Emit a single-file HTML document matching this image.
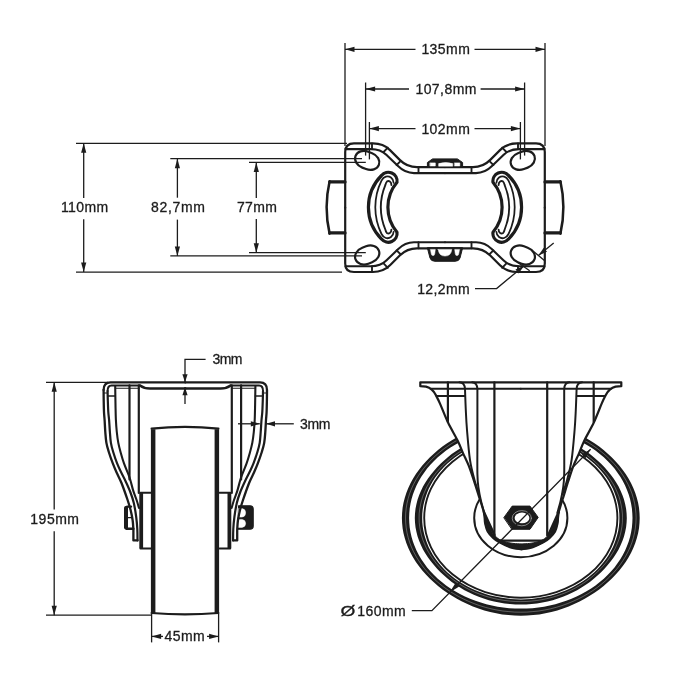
<!DOCTYPE html>
<html lang="en"><head><meta charset="utf-8"><title>Castor 160mm technical drawing</title>
<style>html,body{margin:0;padding:0;background:#fff;}body{width:700px;height:700px;overflow:hidden;}svg{display:block;will-change:transform;}text{font-family:"Liberation Sans",Arial,Helvetica,sans-serif;}</style>
</head><body>
<svg width="700" height="700" viewBox="0 0 700 700">
<rect x="0" y="0" width="700" height="700" fill="#fff"/>
<g stroke="#1c1c1c" fill="none" stroke-linejoin="round" stroke-linecap="round">
<path d="M345,181.9 H329.8 M345,232.9 H329.8" stroke-width="3.3" fill="none" />
<path d="M329.6,181.2 Q323.6,207.4 329.6,233.6" stroke-width="2.53" fill="none" />
<path d="M545,181.9 H560.2 M545,232.9 H560.2" stroke-width="3.3" fill="none" />
<path d="M560.4,181.2 Q566.4,207.4 560.4,233.6" stroke-width="2.53" fill="none" />
<path d="M345.2,207.7 L345.2,152 Q345.2,143.4 354,143.4 L373,143.4 Q383.3,143.4 390,150.1 L400,160.1 Q407,167.1 417,167.1 L445,167.1" stroke-width="2.2" fill="none" />
<path d="M345.5,149.1 L371,149.1 Q380.6,149.1 386.3,154.8 L398,166.1 Q405,173.1 414,173.1 L445,173.1" stroke-width="2.09" fill="none" />
<path d="M372,143.4 L372,149.1" stroke-width="1.87" fill="none" />
<path d="M387.8,147.6 L383.6,152" stroke-width="1.87" fill="none" />
<path d="M400.8,160.9 L396.6,165" stroke-width="1.87" fill="none" />
<path d="M418.5,167.1 L418.5,173.1" stroke-width="1.87" fill="none" />
<path d="M345.2,207.7 L345.2,263.4 Q345.2,272 354,272 L373,272 Q383.3,272 390,265.3 L400,255.3 Q407,248.3 417,248.3 L445,248.3" stroke-width="2.2" fill="none" />
<path d="M345.5,266.3 L371,266.3 Q380.6,266.3 386.3,260.6 L398,249.3 Q405,242.3 414,242.3 L445,242.3" stroke-width="2.09" fill="none" />
<path d="M372,272 L372,266.3" stroke-width="1.87" fill="none" />
<path d="M387.8,267.8 L383.6,263.4" stroke-width="1.87" fill="none" />
<path d="M400.8,254.5 L396.6,250.4" stroke-width="1.87" fill="none" />
<path d="M418.5,248.3 L418.5,242.3" stroke-width="1.87" fill="none" />
<path d="M544.8,207.7 L544.8,152 Q544.8,143.4 536,143.4 L517,143.4 Q506.7,143.4 500,150.1 L490,160.1 Q483,167.1 473,167.1 L445,167.1" stroke-width="2.2" fill="none" />
<path d="M544.5,149.1 L519,149.1 Q509.4,149.1 503.7,154.8 L492,166.1 Q485,173.1 476,173.1 L445,173.1" stroke-width="2.09" fill="none" />
<path d="M518,143.4 L518,149.1" stroke-width="1.87" fill="none" />
<path d="M502.2,147.6 L506.4,152" stroke-width="1.87" fill="none" />
<path d="M489.2,160.9 L493.4,165" stroke-width="1.87" fill="none" />
<path d="M471.5,167.1 L471.5,173.1" stroke-width="1.87" fill="none" />
<path d="M544.8,207.7 L544.8,263.4 Q544.8,272 536,272 L517,272 Q506.7,272 500,265.3 L490,255.3 Q483,248.3 473,248.3 L445,248.3" stroke-width="2.2" fill="none" />
<path d="M544.5,266.3 L519,266.3 Q509.4,266.3 503.7,260.6 L492,249.3 Q485,242.3 476,242.3 L445,242.3" stroke-width="2.09" fill="none" />
<path d="M518,272 L518,266.3" stroke-width="1.87" fill="none" />
<path d="M502.2,267.8 L506.4,263.4" stroke-width="1.87" fill="none" />
<path d="M489.2,254.5 L493.4,250.4" stroke-width="1.87" fill="none" />
<path d="M471.5,248.3 L471.5,242.3" stroke-width="1.87" fill="none" />
<rect x="354.7" y="151.9" width="25" height="17" rx="10.5" ry="8.5" stroke-width="2.2" fill="none" transform="rotate(21 367.2 160.4)"/>
<rect x="354.7" y="246.5" width="25" height="17" rx="10.5" ry="8.5" stroke-width="2.2" fill="none" transform="rotate(-21 367.2 255)"/>
<rect x="510.3" y="151.9" width="25" height="17" rx="10.5" ry="8.5" stroke-width="2.2" fill="none" transform="rotate(-21 522.8 160.4)"/>
<rect x="510.3" y="246.5" width="25" height="17" rx="10.5" ry="8.5" stroke-width="2.2" fill="none" transform="rotate(21 522.8 255)"/>
<g>
<path d="M381.5,175.5 A8.8,8.8 0 0 1 397,182.3 A38.9,38.9 0 0 0 397,232.3 A8.8,8.8 0 0 1 381.5,239.1 A45.2,45.2 0 0 1 381.5,175.5 Z" stroke-width="3.2" fill="none" />
<path d="M393.6,182.8 C393.4,178 389.4,175.6 385.8,176.6 C383.8,177.2 382.4,178.8 381.5,180.6 A60.6,60.6 0 0 0 381.5,234 C382.4,235.8 383.8,237.4 385.8,238 C389.4,239 393.4,236.6 393.6,231.8" stroke-width="1.76" fill="none" />
<path d="M391.4,185 C391.4,181.6 388.8,180.2 386.9,181.6 C386.2,182.2 385.8,183.2 385.5,184.6 A59.3,59.3 0 0 0 385.5,230 C385.8,231.4 386.2,232.4 386.9,233 C388.8,234.4 391.4,233 391.4,229.6" stroke-width="1.87" fill="none" />
</g>
<g transform="translate(890,0) scale(-1,1)">
<path d="M381.5,175.5 A8.8,8.8 0 0 1 397,182.3 A38.9,38.9 0 0 0 397,232.3 A8.8,8.8 0 0 1 381.5,239.1 A45.2,45.2 0 0 1 381.5,175.5 Z" stroke-width="3.2" fill="none" />
<path d="M393.6,182.8 C393.4,178 389.4,175.6 385.8,176.6 C383.8,177.2 382.4,178.8 381.5,180.6 A60.6,60.6 0 0 0 381.5,234 C382.4,235.8 383.8,237.4 385.8,238 C389.4,239 393.4,236.6 393.6,231.8" stroke-width="1.76" fill="none" />
<path d="M391.4,185 C391.4,181.6 388.8,180.2 386.9,181.6 C386.2,182.2 385.8,183.2 385.5,184.6 A59.3,59.3 0 0 0 385.5,230 C385.8,231.4 386.2,232.4 386.9,233 C388.8,234.4 391.4,233 391.4,229.6" stroke-width="1.87" fill="none" />
</g>
<path d="M427.4,167 V162.5 L432.6,158.9 H457.4 L462.6,162.5 V167 Z" stroke-width="1" fill="#1c1c1c" />
<path d="M430.2,162.9 H435.3 V165.9 H430.2 Z M454.7,162.9 H459.8 V165.9 H454.7 Z" stroke-width="0.6" fill="#fff" stroke="#fff"/>
<path d="M438.7,165.9 V163.6 Q445.6,161.6 452.6,163.6 V165.9 Z" stroke-width="0.6" fill="#fff" stroke="#fff"/>
<path d="M427.4,248 L430,258 Q431,261.3 435,261.3 H455 Q459,261.3 460,258 L462.6,248 Z" stroke-width="1" fill="#1c1c1c" />
<path d="M430.6,249.4 H435.3 L434.8,253.6 Q434.4,255.8 433,255.6 Q431.6,255.6 431.3,254 Z" stroke-width="0.5" fill="#fff" stroke="#fff"/>
<path d="M459.4,249.4 H454.7 L455.2,253.6 Q455.6,255.8 457,255.6 Q458.4,255.6 458.7,254 Z" stroke-width="0.5" fill="#fff" stroke="#fff"/>
<path d="M438.2,249.4 H451.8 Q451,256.1 445,256.1 Q439,256.1 438.2,249.4 Z" stroke-width="0.5" fill="#fff" stroke="#fff"/>
</g>
<g stroke="#1c1c1c" fill="none" stroke-linejoin="round" stroke-linecap="round">
<path d="M153.15,613.6 V429.2 M216.85,613.6 V429.2" stroke-width="4.5" fill="none" stroke-linecap="butt"/>
<path d="M151.6,428.7 Q185,424.9 218.4,428.7" stroke-width="2.2" fill="none" />
<path d="M151.6,613 Q185,615.9 218.4,613" stroke-width="2.2" fill="none" />
<path d="M131,506.6 H127.6 Q125.8,506.6 125.8,509 V526.4 Q125.8,528.8 127.6,528.8 H133.4" stroke-width="2.42" fill="none" />
<path d="M126,508 V527.4" stroke-width="4" fill="none" />
<path d="M128,517.7 H131.5" stroke-width="1.3" fill="none" />
<path d="M238.6,505.8 H250 Q253.2,505.8 253.2,509 V526 Q253.2,529.2 250,529.2 H237.6 Z" stroke-width="1.2" fill="#1c1c1c" />
<path d="M238.9,508.6 H242 Q245.6,509 245.6,512.8 Q245.6,516.8 242,517.1 H237.4 Z" stroke-width="0.5" fill="#fff" stroke="#fff"/>
<path d="M237.2,519.4 H242 Q245.6,519.8 245.6,523.4 Q245.6,527 242,527.4 H236.6 Z" stroke-width="0.5" fill="#fff" stroke="#fff"/>
<path d="M185.3,382.4 H110.5 Q103.6,382.4 103.6,390" stroke-width="2.2" fill="none" />
<path d="M140,385.5 H111.5 Q107.6,385.5 107.6,391" stroke-width="1.98" fill="none" />
<path d="M115.5,388.2 H139" stroke-width="1.1" fill="none" />
<path d="M140,385.5 Q144,388.5 150,388.5 H185.3" stroke-width="2.53" fill="none" />
<path d="M103.6,390 C103.62,391.67 103.63,396.33 103.7,400 C103.77,403.67 103.85,408.67 104,412 C104.15,415.33 104.38,416.67 104.6,420 C104.82,423.33 105,428.18 105.3,432 C105.6,435.82 105.82,439.57 106.4,442.9 C106.98,446.23 107.73,448.58 108.8,452 C109.87,455.42 111.5,459.98 112.8,463.4 C114.1,466.82 115.15,469.23 116.6,472.5 C118.05,475.77 119.67,478.42 121.5,483 C123.33,487.58 126.08,495.5 127.6,500 C129.12,504.5 129.77,506.67 130.6,510 C131.43,513.33 132.15,517 132.6,520 C133.05,523 133.17,526.27 133.3,528 C133.43,529.73 133.38,530 133.4,530.4 L133.4,540.4 H137.5" stroke-width="2.31" fill="none" />
<path d="M107.6,391 C107.63,392.5 107.68,396.5 107.8,400 C107.92,403.5 108.08,408.67 108.3,412 C108.52,415.33 108.83,416.67 109.1,420 C109.37,423.33 109.6,428.18 109.9,432 C110.2,435.82 110.35,439.57 110.9,442.9 C111.45,446.23 112.17,448.58 113.2,452 C114.23,455.42 115.8,460.07 117.1,463.4 C118.4,466.73 119.55,468.95 121,472 C122.45,475.05 124.25,478.37 125.8,481.7 C127.35,485.03 128.97,488.47 130.3,492 C131.63,495.53 132.82,498.73 133.8,502.9 C134.78,507.07 135.62,512.65 136.2,517 C136.78,521.35 137.08,525.1 137.3,529 C137.52,532.9 137.47,538.5 137.5,540.4" stroke-width="2.2" fill="none" />
<path d="M115.2,386 C115.25,389.17 115.38,399.33 115.5,405 C115.62,410.67 115.68,415.5 115.9,420 C116.12,424.5 116.4,428.18 116.8,432 C117.2,435.82 117.63,439.4 118.3,442.9 C118.97,446.4 119.85,449.58 120.8,453 C121.75,456.42 122.7,459.75 124,463.4 C125.3,467.05 127.5,471.97 128.6,474.9 C129.7,477.83 129.82,478.33 130.6,481 C131.38,483.67 132.3,487.73 133.3,490.9 C134.3,494.07 135.65,497.15 136.6,500 C137.55,502.85 138.6,506.67 139,508" stroke-width="2.09" fill="none" />
<path d="M108.3,396 H115.2" stroke-width="1.54" fill="none" />
<path d="M103.8,393 H107.6" stroke-width="1.1" fill="none" />
<path d="M129.5,385.4 V479.4" stroke-width="2.2" fill="none" />
<path d="M138.8,385.4 V493" stroke-width="2.2" fill="none" />
<path d="M151,492.7 H140.4 M151,548.5 H140.4" stroke-width="1.98" fill="none" />
<path d="M141.2,493 V548.2" stroke-width="3.8" fill="none" stroke-linecap="butt"/>
<path d="M185.3,382.4 H260.1 Q267,382.4 267,390" stroke-width="2.2" fill="none" />
<path d="M230.6,385.5 H259.1 Q263,385.5 263,391" stroke-width="1.98" fill="none" />
<path d="M255.1,388.2 H231.6" stroke-width="1.1" fill="none" />
<path d="M230.6,385.5 Q226.6,388.5 220.6,388.5 H185.3" stroke-width="2.53" fill="none" />
<path d="M267,390 C266.98,391.67 266.97,396.33 266.9,400 C266.83,403.67 266.75,408.67 266.6,412 C266.45,415.33 266.22,416.67 266,420 C265.78,423.33 265.6,428.18 265.3,432 C265,435.82 264.78,439.57 264.2,442.9 C263.62,446.23 262.87,448.58 261.8,452 C260.73,455.42 259.1,459.98 257.8,463.4 C256.5,466.82 255.45,469.23 254,472.5 C252.55,475.77 250.93,478.42 249.1,483 C247.27,487.58 244.52,495.5 243,500 C241.48,504.5 240.83,506.67 240,510 C239.17,513.33 238.45,517 238,520 C237.55,523 237.43,526.27 237.3,528 C237.17,529.73 237.22,530 237.2,530.4 L237.2,540.4 H233.1" stroke-width="2.31" fill="none" />
<path d="M263,391 C262.97,392.5 262.92,396.5 262.8,400 C262.68,403.5 262.52,408.67 262.3,412 C262.08,415.33 261.77,416.67 261.5,420 C261.23,423.33 261,428.18 260.7,432 C260.4,435.82 260.25,439.57 259.7,442.9 C259.15,446.23 258.43,448.58 257.4,452 C256.37,455.42 254.8,460.07 253.5,463.4 C252.2,466.73 251.05,468.95 249.6,472 C248.15,475.05 246.35,478.37 244.8,481.7 C243.25,485.03 241.63,488.47 240.3,492 C238.97,495.53 237.78,498.73 236.8,502.9 C235.82,507.07 234.98,512.65 234.4,517 C233.82,521.35 233.52,525.1 233.3,529 C233.08,532.9 233.13,538.5 233.1,540.4" stroke-width="2.2" fill="none" />
<path d="M255.4,386 C255.35,389.17 255.22,399.33 255.1,405 C254.98,410.67 254.92,415.5 254.7,420 C254.48,424.5 254.2,428.18 253.8,432 C253.4,435.82 252.97,439.4 252.3,442.9 C251.63,446.4 250.75,449.58 249.8,453 C248.85,456.42 247.9,459.75 246.6,463.4 C245.3,467.05 243.1,471.97 242,474.9 C240.9,477.83 240.78,478.33 240,481 C239.22,483.67 238.3,487.73 237.3,490.9 C236.3,494.07 234.95,497.15 234,500 C233.05,502.85 232,506.67 231.6,508" stroke-width="2.09" fill="none" />
<path d="M262.3,396 H255.4" stroke-width="1.54" fill="none" />
<path d="M266.8,393 H263" stroke-width="1.1" fill="none" />
<path d="M241.1,385.4 V479.4" stroke-width="2.2" fill="none" />
<path d="M231.8,385.4 V493" stroke-width="2.2" fill="none" />
<path d="M219.6,492.7 H230.2 M219.6,548.5 H230.2" stroke-width="1.98" fill="none" />
<path d="M229.4,493 V548.2" stroke-width="3.8" fill="none" stroke-linecap="butt"/>
</g>
<g stroke="#1c1c1c" fill="none" stroke-linejoin="round" stroke-linecap="round">
<path d="M639.7,518.0 639.5,523.1 639.0,528.2 638.1,533.3 636.8,538.3 635.2,543.2 633.3,548.0 631.1,552.8 628.5,557.4 625.7,561.9 622.6,566.2 619.3,570.5 615.7,574.6 611.9,578.5 607.8,582.3 603.6,585.9 599.2,589.4 594.5,592.7 589.7,595.8 584.7,598.8 579.6,601.5 574.2,604.1 568.7,606.4 563.1,608.5 557.3,610.4 551.4,612.0 545.4,613.3 539.4,614.4 533.2,615.1 527.0,615.6 520.8,615.8 514.6,615.6 508.4,615.1 502.2,614.4 496.2,613.3 490.2,612.0 484.3,610.4 478.5,608.5 472.9,606.4 467.4,604.1 462.0,601.5 456.9,598.8 451.9,595.8 447.1,592.7 442.4,589.4 438.0,585.9 433.8,582.3 429.7,578.5 425.9,574.6 422.3,570.5 419.0,566.2 415.9,561.9 413.1,557.4 410.5,552.8 408.3,548.0 406.4,543.2 404.8,538.3 403.5,533.3 402.6,528.2 402.1,523.1 401.9,518.0 402.1,512.9 402.6,507.8 403.5,502.7 404.8,497.7 406.4,492.8 408.3,488.0 410.5,483.2 413.1,478.6 415.9,474.1 419.0,469.8 422.3,465.5 425.9,461.4 429.7,457.5 433.8,453.7 438.0,450.1 442.4,446.6 447.1,443.3 451.9,440.2 456.9,437.2 462.0,434.5 467.4,431.9 472.9,429.6 478.5,427.5 484.3,425.6 490.2,424.0 496.2,422.7 502.2,421.6 508.4,420.9 514.6,420.4 520.8,420.2 527.0,420.4 533.2,420.9 539.4,421.6 545.4,422.7 551.4,424.0 557.3,425.6 563.1,427.5 568.7,429.6 574.2,431.9 579.6,434.5 584.7,437.2 589.7,440.2 594.5,443.3 599.2,446.6 603.6,450.1 607.8,453.7 611.9,457.5 615.7,461.4 619.3,465.5 622.6,469.8 625.7,474.1 628.5,478.6 631.1,483.2 633.3,488.0 635.2,492.8 636.8,497.7 638.1,502.7 639.0,507.8 639.5,512.9Z M632.3,513.3 631.9,508.5 631.1,503.8 630.1,499.2 628.7,494.5 627.0,490.0 625.1,485.5 622.8,481.1 620.3,476.8 617.5,472.7 614.5,468.6 611.2,464.7 607.6,461.0 603.8,457.3 599.8,453.9 595.5,450.6 591.1,447.6 586.5,444.7 581.6,442.0 576.6,439.5 571.5,437.2 566.2,435.2 560.8,433.4 555.3,431.8 549.7,430.4 544.0,429.3 538.3,428.5 532.5,427.8 526.6,427.5 520.8,427.4 515.0,427.5 509.1,427.8 503.3,428.5 497.6,429.3 491.9,430.4 486.3,431.8 480.8,433.4 475.4,435.2 470.1,437.2 464.9,439.5 460.0,442.0 455.1,444.7 450.5,447.6 446.1,450.6 441.8,453.9 437.8,457.3 434.0,461.0 430.4,464.7 427.1,468.6 424.1,472.7 421.3,476.8 418.8,481.1 416.5,485.5 414.6,490.0 412.9,494.5 411.5,499.2 410.5,503.8 409.7,508.5 409.3,513.3 409.1,518.0 409.3,522.7 409.7,527.5 410.5,532.2 411.5,536.8 412.9,541.5 414.6,546.0 416.5,550.5 418.8,554.9 421.3,559.2 424.1,563.3 427.1,567.4 430.4,571.3 434.0,575.0 437.8,578.7 441.8,582.1 446.1,585.4 450.5,588.4 455.1,591.3 460.0,594.0 464.9,596.5 470.1,598.8 475.4,600.8 480.8,602.6 486.3,604.2 491.9,605.6 497.6,606.7 503.3,607.5 509.1,608.2 515.0,608.5 520.8,608.6 526.6,608.5 532.5,608.2 538.3,607.5 544.0,606.7 549.7,605.6 555.3,604.2 560.8,602.6 566.2,600.8 571.5,598.8 576.6,596.5 581.6,594.0 586.5,591.3 591.1,588.4 595.5,585.4 599.8,582.1 603.8,578.7 607.6,575.0 611.2,571.3 614.5,567.4 617.5,563.3 620.3,559.2 622.8,554.9 625.1,550.5 627.0,546.0 628.7,541.5 630.1,536.8 631.1,532.2 631.9,527.5 632.3,522.7 632.5,518.0Z" fill="#1c1c1c" fill-rule="evenodd" stroke="none"/>
<path d="M636.1,518.0 635.9,522.9 635.4,527.8 634.6,532.7 633.4,537.6 632.0,542.3 630.2,547.0 628.1,551.6 625.7,556.1 623.0,560.5 620.1,564.8 616.9,568.9 613.4,572.9 609.7,576.8 605.8,580.5 601.7,584.0 597.4,587.4 592.8,590.6 588.1,593.6 583.2,596.4 578.1,599.0 572.9,601.4 567.5,603.6 562.0,605.6 556.3,607.3 550.6,608.8 544.7,610.0 538.8,611.0 532.8,611.6 526.8,612.1 520.8,612.2 514.8,612.1 508.8,611.6 502.8,611.0 496.9,610.0 491.0,608.8 485.3,607.3 479.6,605.6 474.1,603.6 468.7,601.4 463.5,599.0 458.4,596.4 453.5,593.6 448.8,590.6 444.2,587.4 439.9,584.0 435.8,580.5 431.9,576.8 428.2,572.9 424.7,568.9 421.5,564.8 418.6,560.5 415.9,556.1 413.5,551.6 411.4,547.0 409.6,542.3 408.2,537.6 407.0,532.7 406.2,527.8 405.7,522.9 405.5,518.0 405.7,513.1 406.2,508.2 407.0,503.3 408.2,498.4 409.6,493.7 411.4,489.0 413.5,484.4 415.9,479.9 418.6,475.5 421.5,471.2 424.7,467.1 428.2,463.1 431.9,459.2 435.8,455.5 439.9,452.0 444.2,448.6 448.8,445.4 453.5,442.4 458.4,439.6 463.5,437.0 468.7,434.6 474.1,432.4 479.6,430.4 485.3,428.7 491.0,427.2 496.9,426.0 502.8,425.0 508.8,424.4 514.8,423.9 520.8,423.8 526.8,423.9 532.8,424.4 538.8,425.0 544.7,426.0 550.6,427.2 556.3,428.7 562.0,430.4 567.5,432.4 572.9,434.6 578.1,437.0 583.2,439.6 588.1,442.4 592.8,445.4 597.4,448.6 601.7,452.0 605.8,455.5 609.7,459.2 613.4,463.1 616.9,467.1 620.1,471.2 623.0,475.5 625.7,479.9 628.1,484.4 630.2,489.0 632.0,493.7 633.4,498.4 634.6,503.3 635.4,508.2 635.9,513.1Z" fill="none" stroke="#fff" stroke-width="0.8" opacity="0.38"/>
<path d="M626.8,518.0 626.6,522.6 626.1,527.3 625.2,531.8 624.0,536.4 622.5,540.8 620.7,545.1 618.6,549.4 616.2,553.5 613.6,557.5 610.8,561.3 607.7,565.1 604.5,568.7 601.1,572.2 597.5,575.5 593.8,578.8 589.9,581.9 585.8,584.8 581.5,587.6 577.1,590.2 572.5,592.6 567.8,594.8 562.9,596.8 557.9,598.6 552.8,600.2 547.6,601.5 542.4,602.6 537.0,603.5 531.7,604.1 526.2,604.5 520.8,604.6 515.4,604.5 509.9,604.1 504.6,603.5 499.2,602.6 494.0,601.5 488.8,600.2 483.7,598.6 478.7,596.8 473.8,594.8 469.1,592.6 464.5,590.2 460.1,587.6 455.8,584.8 451.7,581.9 447.8,578.8 444.1,575.5 440.5,572.2 437.1,568.7 433.9,565.1 430.8,561.3 428.0,557.5 425.4,553.5 423.0,549.4 420.9,545.1 419.1,540.8 417.6,536.4 416.4,531.8 415.5,527.3 415.0,522.6 414.8,518.0 415.0,513.4 415.5,508.7 416.4,504.2 417.6,499.6 419.1,495.2 420.9,490.9 423.0,486.6 425.4,482.5 428.0,478.5 430.8,474.7 433.9,470.9 437.1,467.3 440.5,463.8 444.1,460.5 447.8,457.2 451.7,454.1 455.8,451.2 460.1,448.4 464.5,445.8 469.1,443.4 473.8,441.2 478.7,439.2 483.7,437.4 488.8,435.8 494.0,434.5 499.2,433.4 504.6,432.5 509.9,431.9 515.4,431.5 520.8,431.4 526.2,431.5 531.7,431.9 537.0,432.5 542.4,433.4 547.6,434.5 552.8,435.8 557.9,437.4 562.9,439.2 567.8,441.2 572.5,443.4 577.1,445.8 581.5,448.4 585.8,451.2 589.9,454.1 593.8,457.2 597.5,460.5 601.1,463.8 604.5,467.3 607.7,470.9 610.8,474.7 613.6,478.5 616.2,482.5 618.6,486.6 620.7,490.9 622.5,495.2 624.0,499.6 625.2,504.2 626.1,508.7 626.6,513.4Z M619.3,513.7 618.9,509.5 618.2,505.3 617.2,501.1 616.0,496.9 614.6,492.9 612.9,488.8 610.9,484.9 608.7,481.1 606.2,477.3 603.5,473.7 600.6,470.2 597.4,466.8 594.1,463.6 590.5,460.5 586.8,457.5 582.9,454.8 578.8,452.2 574.5,449.8 570.1,447.5 565.6,445.5 560.9,443.7 556.1,442.1 551.3,440.6 546.3,439.4 541.3,438.4 536.2,437.7 531.1,437.1 526.0,436.8 520.8,436.6 515.6,436.8 510.5,437.1 505.4,437.7 500.3,438.4 495.3,439.4 490.3,440.6 485.5,442.1 480.7,443.7 476.0,445.5 471.5,447.5 467.1,449.8 462.8,452.2 458.7,454.8 454.8,457.5 451.1,460.5 447.5,463.6 444.2,466.8 441.0,470.2 438.1,473.7 435.4,477.3 432.9,481.1 430.7,484.9 428.7,488.8 427.0,492.9 425.6,496.9 424.4,501.1 423.4,505.3 422.7,509.5 422.3,513.7 422.2,518.0 422.3,522.3 422.7,526.5 423.4,530.7 424.4,534.9 425.6,539.1 427.0,543.1 428.7,547.2 430.7,551.1 432.9,554.9 435.4,558.7 438.1,562.3 441.0,565.8 444.2,569.2 447.5,572.4 451.1,575.5 454.8,578.5 458.7,581.2 462.8,583.8 467.1,586.2 471.5,588.5 476.0,590.5 480.7,592.3 485.5,593.9 490.3,595.4 495.3,596.6 500.3,597.6 505.4,598.3 510.5,598.9 515.6,599.2 520.8,599.4 526.0,599.2 531.1,598.9 536.2,598.3 541.3,597.6 546.3,596.6 551.3,595.4 556.1,593.9 560.9,592.3 565.6,590.5 570.1,588.5 574.5,586.2 578.8,583.8 582.9,581.2 586.8,578.5 590.5,575.5 594.1,572.4 597.4,569.2 600.6,565.8 603.5,562.3 606.2,558.7 608.7,554.9 610.9,551.1 612.9,547.2 614.6,543.1 616.0,539.1 617.2,534.9 618.2,530.7 618.9,526.5 619.3,522.3 619.4,518.0Z" fill="#1c1c1c" fill-rule="evenodd" stroke="none"/>
<path d="M622.5,518.0 622.4,522.4 621.9,526.8 621.1,531.2 620.1,535.5 618.8,539.8 617.1,544.0 615.3,548.1 613.1,552.1 610.7,556.0 608.1,559.8 605.3,563.5 602.2,567.0 599.0,570.4 595.5,573.7 591.9,576.9 588.1,579.9 584.1,582.7 579.9,585.4 575.6,587.9 571.1,590.2 566.5,592.3 561.7,594.2 556.9,595.9 551.9,597.4 546.9,598.7 541.8,599.7 536.6,600.5 531.3,601.1 526.1,601.5 520.8,601.6 515.5,601.5 510.3,601.1 505.0,600.5 499.8,599.7 494.7,598.7 489.7,597.4 484.7,595.9 479.9,594.2 475.1,592.3 470.5,590.2 466.0,587.9 461.7,585.4 457.5,582.7 453.5,579.9 449.7,576.9 446.1,573.7 442.6,570.4 439.4,567.0 436.3,563.5 433.5,559.8 430.9,556.0 428.5,552.1 426.3,548.1 424.5,544.0 422.8,539.8 421.5,535.5 420.5,531.2 419.7,526.8 419.2,522.4 419.1,518.0 419.2,513.6 419.7,509.2 420.5,504.8 421.5,500.5 422.8,496.2 424.5,492.0 426.3,487.9 428.5,483.9 430.9,480.0 433.5,476.2 436.3,472.5 439.4,469.0 442.6,465.6 446.1,462.3 449.7,459.1 453.5,456.1 457.5,453.3 461.7,450.6 466.0,448.1 470.5,445.8 475.1,443.7 479.9,441.8 484.7,440.1 489.7,438.6 494.7,437.3 499.8,436.3 505.0,435.5 510.3,434.9 515.5,434.5 520.8,434.4 526.1,434.5 531.3,434.9 536.6,435.5 541.8,436.3 546.9,437.3 551.9,438.6 556.9,440.1 561.7,441.8 566.5,443.7 571.1,445.8 575.6,448.1 579.9,450.6 584.1,453.3 588.1,456.1 591.9,459.1 595.5,462.3 599.0,465.6 602.2,469.0 605.3,472.5 608.1,476.2 610.7,480.0 613.1,483.9 615.3,487.9 617.1,492.0 618.8,496.2 620.1,500.5 621.1,504.8 621.9,509.2 622.4,513.6Z" fill="none" stroke="#fff" stroke-width="0.8" opacity="0.38"/>
<ellipse cx="520.8" cy="518" rx="96.6" ry="79.7" stroke-width="1.9"/>
<ellipse cx="520.8" cy="518" rx="46.6" ry="39.2" stroke-width="2.0"/>
<path d="M420.3,382.3 V386.2 L426,386.6 Q432.6,388.4 435.8,395 L435.8,395 C436.5,396.43 437.98,399.05 440,403.6 C442.02,408.15 444.97,416.15 447.9,422.3 C450.83,428.45 455.08,435.37 457.6,440.5 C460.12,445.63 461.15,448.9 463,453.1 C464.85,457.3 466.87,461.05 468.7,465.7 C470.53,470.35 472.28,475.85 474,481 C475.72,486.15 477.97,493.43 479,496.6 C480.03,499.77 479.4,497.47 480.2,500 C481,502.53 483.2,509.83 483.8,511.8 L483.8,511.8 C483.93,512.75 484.37,515.53 484.6,517.5 C484.83,519.47 484.68,521.28 485.2,523.6 C485.72,525.92 486.37,529.02 487.7,531.4 C489.03,533.78 491.23,536.07 493.2,537.9 C495.17,539.73 496.7,540.85 499.5,542.4 C502.3,543.95 506.35,546.03 510,547.2 C513.65,548.37 519.5,549.03 521.4,549.4 L521.4,549.4 C523.3,549.03 529.15,548.37 532.8,547.2 C536.45,546.03 540.5,543.95 543.3,542.4 C546.1,540.85 547.64,539.73 549.6,537.9 C551.56,536.07 553.75,533.78 555.07,531.4 C556.39,529.02 557.01,525.92 557.5,523.6 C558,521.28 557.83,519.47 558.05,517.5 C558.27,515.53 558.68,512.75 558.8,511.8 L558.8,511.8 C559.38,509.83 561.52,502.53 562.3,500 C563.08,497.47 562.46,499.77 563.47,496.6 C564.48,493.43 566.66,486.15 568.34,481 C570.01,475.85 571.71,470.35 573.51,465.7 C575.3,461.05 577.28,457.3 579.1,453.1 C580.91,448.9 581.92,445.63 584.39,440.5 C586.86,435.37 591.05,428.45 593.93,422.3 C596.81,416.15 599.7,408.15 601.67,403.6 C603.65,399.05 605.11,396.43 605.8,395 Q609,388.4 615.6,386.6 L621.3,386.2 V382.3 Z" stroke-width="2.2" fill="#fff" />
<path d="M483.8,511.8 C483.93,512.75 484.37,515.53 484.6,517.5 C484.83,519.47 484.68,521.28 485.2,523.6 C485.72,525.92 486.37,529.02 487.7,531.4 C489.03,533.78 491.23,536.07 493.2,537.9 C495.17,539.73 496.7,540.85 499.5,542.4 C502.3,543.95 506.35,546.03 510,547.2 C513.65,548.37 519.5,549.03 521.4,549.4 L521.4,543.9 C520,543.82 515.73,543.75 513,543.4 C510.27,543.05 507.5,542.6 505,541.8 C502.5,541 499.77,539.77 498,538.6 C496.23,537.43 495,535.43 494.4,534.8 L492.4,533 L483.8,511.8 Z" stroke-width="1" fill="#1c1c1c" />
<path d="M483.8,511.8 L494.4,534.8" stroke-width="2.42" fill="none" />
<path d="M558.8,511.8 C558.68,512.75 558.27,515.53 558.05,517.5 C557.83,519.47 558,521.28 557.5,523.6 C557.01,525.92 556.39,529.02 555.07,531.4 C553.75,533.78 551.56,536.07 549.6,537.9 C547.64,539.73 546.1,540.85 543.3,542.4 C540.5,543.95 536.45,546.03 532.8,547.2 C529.15,548.37 523.3,549.03 521.4,549.4 L521.4,543.9 C522.8,543.82 527.07,543.75 529.8,543.4 C532.53,543.05 535.3,542.6 537.8,541.8 C540.3,541 543.03,539.77 544.8,538.6 C546.57,537.43 547.8,535.43 548.4,534.8 L550.38,533 L558.8,511.8 Z" stroke-width="1" fill="#1c1c1c" />
<path d="M558.8,511.8 L548.4,534.8" stroke-width="2.42" fill="none" />
<path d="M431,388.7 H520.8" stroke-width="2.09" fill="none" />
<path d="M436.6,396.1 H464.8" stroke-width="1.98" fill="none" />
<path d="M447.9,382.3 V422" stroke-width="2.2" fill="none" />
<path d="M459.5,382.3 Q464.6,382.5 465,389 L465,389 C465.13,392.5 465.47,403.17 465.8,410 C466.13,416.83 466.3,421.67 467,430 C467.7,438.33 468.75,451.67 470,460 C471.25,468.33 473,474.33 474.5,480 C476,485.67 478.25,491.67 479,494" stroke-width="1.98" fill="none" />
<path d="M472.2,382.3 Q477,382.5 477.4,389 L477.4,389 C477.4,397.5 477.4,425.83 477.4,440 C477.4,454.17 477.22,466 477.4,474 C477.58,482 477.9,483.5 478.5,488 C479.1,492.5 480.03,496.83 481,501 C481.97,505.17 483.75,511 484.3,513" stroke-width="1.98" fill="none" />
<path d="M494.4,382.3 V535.5" stroke-width="2.2" fill="none" />
<path d="M610.6,388.7 H520.8" stroke-width="2.09" fill="none" />
<path d="M605,396.1 H576.8" stroke-width="1.98" fill="none" />
<path d="M593.7,382.3 V422" stroke-width="2.2" fill="none" />
<path d="M582.1,382.3 Q577,382.5 576.6,389 L576.6,389 C576.47,392.5 576.13,403.17 575.8,410 C575.47,416.83 575.3,421.67 574.6,430 C573.9,438.33 572.85,451.67 571.6,460 C570.35,468.33 568.6,474.33 567.1,480 C565.6,485.67 563.35,491.67 562.6,494" stroke-width="1.98" fill="none" />
<path d="M569.4,382.3 Q564.6,382.5 564.2,389 L564.2,389 C564.2,397.5 564.2,425.83 564.2,440 C564.2,454.17 564.38,466 564.2,474 C564.02,482 563.7,483.5 563.1,488 C562.5,492.5 561.57,496.83 560.6,501 C559.63,505.17 557.85,511 557.3,513" stroke-width="1.98" fill="none" />
<path d="M547.2,382.3 V535.5" stroke-width="2.2" fill="none" />
<path d="M498.5,540.6 H544" stroke-width="2.09" fill="none" />
<polygon points="504,517.4 512.2,506.1 530,506.1 538.2,517.4 530,529.3 512.2,529.3" fill="#1c1c1c" stroke-width="1"/>
<ellipse cx="521.8" cy="518.2" rx="9.6" ry="7.6" fill="none" stroke="#b0b0b0" stroke-width="0.7"/>
<ellipse cx="522" cy="517.9" rx="7.4" ry="5.3" fill="#fff" stroke="none"/>
</g>
<g stroke="#1c1c1c" fill="none" stroke-linecap="butt">
<line x1="345" y1="43" x2="345" y2="146" stroke-width="1.3"/>
<line x1="545" y1="43" x2="545" y2="146" stroke-width="1.3"/>
<line x1="345" y1="49.3" x2="415.5" y2="49.3" stroke-width="1.3"/>
<line x1="474.5" y1="49.3" x2="545" y2="49.3" stroke-width="1.3"/>
<polygon points="345,49.3 354.5,46.7 354.5,51.9" fill="#1c1c1c" stroke="none"/>
<polygon points="545,49.3 535.5,51.9 535.5,46.7" fill="#1c1c1c" stroke="none"/>
<line x1="365.6" y1="82.5" x2="365.6" y2="155.6" stroke-width="1.3"/>
<line x1="524.6" y1="82.5" x2="524.6" y2="155.6" stroke-width="1.3"/>
<line x1="365.6" y1="89" x2="409" y2="89" stroke-width="1.3"/>
<line x1="480.6" y1="89" x2="524.6" y2="89" stroke-width="1.3"/>
<polygon points="365.6,89 375.1,86.4 375.1,91.6" fill="#1c1c1c" stroke="none"/>
<polygon points="524.6,89 515.1,91.6 515.1,86.4" fill="#1c1c1c" stroke="none"/>
<line x1="369.4" y1="122" x2="369.4" y2="159.4" stroke-width="1.3"/>
<line x1="520.4" y1="122" x2="520.4" y2="159.4" stroke-width="1.3"/>
<line x1="369.4" y1="128.6" x2="415.5" y2="128.6" stroke-width="1.3"/>
<line x1="474.5" y1="128.6" x2="520.4" y2="128.6" stroke-width="1.3"/>
<polygon points="369.4,128.6 378.9,126 378.9,131.2" fill="#1c1c1c" stroke="none"/>
<polygon points="520.4,128.6 510.9,131.2 510.9,126" fill="#1c1c1c" stroke="none"/>
<line x1="76" y1="143.3" x2="347" y2="143.3" stroke-width="1.3"/>
<line x1="76" y1="272.1" x2="342" y2="272.1" stroke-width="1.3"/>
<line x1="83.7" y1="143.3" x2="83.7" y2="198" stroke-width="1.3"/>
<line x1="83.7" y1="219.2" x2="83.7" y2="272.1" stroke-width="1.3"/>
<polygon points="83.7,143.3 86.3,152.8 81.1,152.8" fill="#1c1c1c" stroke="none"/>
<polygon points="83.7,272.1 81.1,262.6 86.3,262.6" fill="#1c1c1c" stroke="none"/>
<line x1="170.3" y1="158.7" x2="362" y2="158.7" stroke-width="1.3"/>
<line x1="170.3" y1="255.9" x2="362" y2="255.9" stroke-width="1.3"/>
<line x1="177.4" y1="158.7" x2="177.4" y2="197.7" stroke-width="1.3"/>
<line x1="177.4" y1="219.6" x2="177.4" y2="255.9" stroke-width="1.3"/>
<polygon points="177.4,158.7 180,168.2 174.8,168.2" fill="#1c1c1c" stroke="none"/>
<polygon points="177.4,255.9 174.8,246.4 180,246.4" fill="#1c1c1c" stroke="none"/>
<line x1="249" y1="162.4" x2="365.8" y2="162.4" stroke-width="1.3"/>
<line x1="249" y1="252.7" x2="365.8" y2="252.7" stroke-width="1.3"/>
<line x1="256.3" y1="162.4" x2="256.3" y2="198" stroke-width="1.3"/>
<line x1="256.3" y1="219" x2="256.3" y2="252.7" stroke-width="1.3"/>
<polygon points="256.3,162.4 258.9,171.9 253.7,171.9" fill="#1c1c1c" stroke="none"/>
<polygon points="256.3,252.7 253.7,243.2 258.9,243.2" fill="#1c1c1c" stroke="none"/>
<path d="M475,288.6 H496.6 L524,265.7" stroke-width="1.3" fill="none" />
<polygon points="524,265.7 518.76,273.47 515.43,269.48" fill="#1c1c1c" stroke="none"/>
<line x1="553.7" y1="242.9" x2="538.4" y2="255.4" stroke-width="1.3"/>
<polygon points="538.4,255.4 543.73,247.7 547.02,251.73" fill="#1c1c1c" stroke="none"/>
<line x1="531.5" y1="249.7" x2="545" y2="261" stroke-width="1.3"/>
<line x1="517" y1="262" x2="529.7" y2="270.7" stroke-width="1.3"/>
<line x1="46" y1="382.3" x2="108" y2="382.3" stroke-width="1.3"/>
<line x1="46" y1="615.2" x2="152" y2="615.2" stroke-width="1.3"/>
<line x1="54.2" y1="382.3" x2="54.2" y2="509.6" stroke-width="1.3"/>
<line x1="54.2" y1="531.2" x2="54.2" y2="615.2" stroke-width="1.3"/>
<polygon points="54.2,382.3 56.8,391.8 51.6,391.8" fill="#1c1c1c" stroke="none"/>
<polygon points="54.2,615.2 51.6,605.7 56.8,605.7" fill="#1c1c1c" stroke="none"/>
<line x1="151.6" y1="614" x2="151.6" y2="642.4" stroke-width="1.3"/>
<line x1="218.6" y1="614" x2="218.6" y2="642.4" stroke-width="1.3"/>
<line x1="151.6" y1="636.4" x2="163" y2="636.4" stroke-width="1.3"/>
<line x1="207" y1="636.4" x2="218.6" y2="636.4" stroke-width="1.3"/>
<polygon points="151.6,636.4 161.1,633.8 161.1,639" fill="#1c1c1c" stroke="none"/>
<polygon points="218.6,636.4 209.1,639 209.1,633.8" fill="#1c1c1c" stroke="none"/>
<path d="M205.6,359.4 H185 V382" stroke-width="1.3" fill="none" />
<polygon points="185,382.2 182.4,374.2 187.6,374.2" fill="#1c1c1c" stroke="none"/>
<line x1="185" y1="387.2" x2="185" y2="404" stroke-width="1.3"/>
<polygon points="185,387.2 187.6,395.2 182.4,395.2" fill="#1c1c1c" stroke="none"/>
<line x1="293.8" y1="423.8" x2="266" y2="423.8" stroke-width="1.3"/>
<polygon points="266,423.8 275,421.2 275,426.4" fill="#1c1c1c" stroke="none"/>
<line x1="238" y1="423.8" x2="259.8" y2="423.8" stroke-width="1.3"/>
<polygon points="259.8,423.8 250.8,426.4 250.8,421.2" fill="#1c1c1c" stroke="none"/>
<path d="M411.8,610.6 H431.9 L590.6,449.3" stroke-width="1.3" fill="none" />
<polygon points="590.6,449.3 585.44,458.25 581.73,454.6" fill="#1c1c1c" stroke="none"/>
<polygon points="449.6,592.6 455.49,582.95 459.18,586.61" fill="#1c1c1c" stroke="none"/>
</g>
<g fill="#1c1c1c" stroke="#1c1c1c" stroke-width="0.3" font-family="&quot;Liberation Sans&quot;, Arial, Helvetica, sans-serif">
<text x="421.4" y="54.4" font-size="14" text-anchor="start" textLength="48.4" lengthAdjust="spacing">135mm</text>
<text x="415.4" y="94" font-size="14" text-anchor="start" textLength="61" lengthAdjust="spacing">107,8mm</text>
<text x="421.4" y="133.6" font-size="14" text-anchor="start" textLength="48.4" lengthAdjust="spacing">102mm</text>
<text x="60.9" y="212.4" font-size="14" text-anchor="start" textLength="47.2" lengthAdjust="spacing">110mm</text>
<text x="150.9" y="212.4" font-size="14" text-anchor="start" textLength="54.1" lengthAdjust="spacing">82,7mm</text>
<text x="236.9" y="212.2" font-size="14" text-anchor="start" textLength="40" lengthAdjust="spacing">77mm</text>
<text x="417.2" y="294.3" font-size="14" text-anchor="start" textLength="52.4" lengthAdjust="spacing">12,2mm</text>
<text x="212.4" y="364.4" font-size="14" text-anchor="start" textLength="30" lengthAdjust="spacing">3mm</text>
<text x="300" y="428.6" font-size="14" text-anchor="start" textLength="30.3" lengthAdjust="spacing">3mm</text>
<text x="30.3" y="524.1" font-size="14" text-anchor="start" textLength="48.7" lengthAdjust="spacing">195mm</text>
<text x="164.6" y="641" font-size="14" text-anchor="start" textLength="40" lengthAdjust="spacing">45mm</text>
<text font-size="14" transform="translate(340.5,616) scale(1.36,1.0)">Ø</text>
<text x="357.3" y="616" font-size="14" text-anchor="start" textLength="48.4" lengthAdjust="spacing">160mm</text>
</g>
</svg>
</body></html>
